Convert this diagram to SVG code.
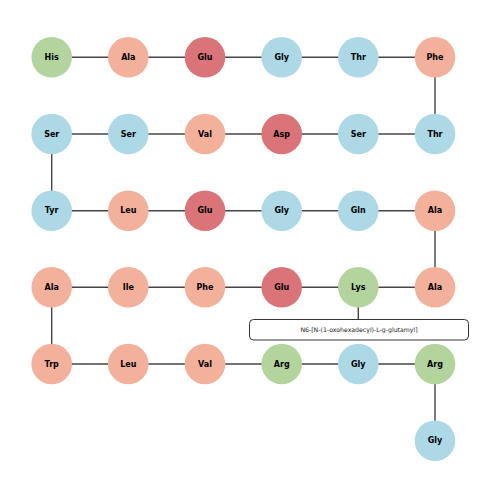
<svg xmlns="http://www.w3.org/2000/svg" width="500" height="500" viewBox="0 0 500 500">
<style>
.c line{stroke:#444;stroke-width:1.4}
circle{stroke:none}
.g{fill:#b3d59d}.s{fill:#f3b09a}.r{fill:#db7479}.b{fill:#add8e6}
text{font-family:"DejaVu Sans",sans-serif;font-size:8px;font-weight:bold;text-anchor:middle;dominant-baseline:central;fill:#000}
.lbl{font-weight:normal;font-size:6.2px;fill:#222}
</style>
<rect width="500" height="500" fill="#fff"/>
<g class="c">
<line x1="51.7" y1="57.3" x2="435" y2="57.3"/>
<line x1="435" y1="57.3" x2="435" y2="134"/>
<line x1="51.7" y1="134" x2="435" y2="134"/>
<line x1="51.7" y1="134" x2="51.7" y2="210.7"/>
<line x1="51.7" y1="210.7" x2="435" y2="210.7"/>
<line x1="435" y1="210.7" x2="435" y2="287.3"/>
<line x1="51.7" y1="287.3" x2="435" y2="287.3"/>
<line x1="51.7" y1="287.3" x2="51.7" y2="364"/>
<line x1="51.7" y1="364" x2="435" y2="364"/>
<line x1="435" y1="364" x2="435" y2="440.7"/>
<line x1="358.3" y1="287.3" x2="358.3" y2="319.5"/>
</g>
<g id="n1"><circle class="g" cx="51.7" cy="57.3" r="20.3"/><text x="51.7" y="57.3">His</text></g>
<g id="n2"><circle class="s" cx="128.3" cy="57.3" r="20.3"/><text x="128.3" y="57.3">Ala</text></g>
<g id="n3"><circle class="r" cx="205" cy="57.3" r="20.3"/><text x="205" y="57.3">Glu</text></g>
<g id="n4"><circle class="b" cx="281.7" cy="57.3" r="20.3"/><text x="281.7" y="57.3">Gly</text></g>
<g id="n5"><circle class="b" cx="358.3" cy="57.3" r="20.3"/><text x="358.3" y="57.3">Thr</text></g>
<g id="n6"><circle class="s" cx="435" cy="57.3" r="20.3"/><text x="435" y="57.3">Phe</text></g>
<g id="n7"><circle class="b" cx="435" cy="134" r="20.3"/><text x="435" y="134">Thr</text></g>
<g id="n8"><circle class="b" cx="358.3" cy="134" r="20.3"/><text x="358.3" y="134">Ser</text></g>
<g id="n9"><circle class="r" cx="281.7" cy="134" r="20.3"/><text x="281.7" y="134">Asp</text></g>
<g id="n10"><circle class="s" cx="205" cy="134" r="20.3"/><text x="205" y="134">Val</text></g>
<g id="n11"><circle class="b" cx="128.3" cy="134" r="20.3"/><text x="128.3" y="134">Ser</text></g>
<g id="n12"><circle class="b" cx="51.7" cy="134" r="20.3"/><text x="51.7" y="134">Ser</text></g>
<g id="n13"><circle class="b" cx="51.7" cy="210.7" r="20.3"/><text x="51.7" y="210.7">Tyr</text></g>
<g id="n14"><circle class="s" cx="128.3" cy="210.7" r="20.3"/><text x="128.3" y="210.7">Leu</text></g>
<g id="n15"><circle class="r" cx="205" cy="210.7" r="20.3"/><text x="205" y="210.7">Glu</text></g>
<g id="n16"><circle class="b" cx="281.7" cy="210.7" r="20.3"/><text x="281.7" y="210.7">Gly</text></g>
<g id="n17"><circle class="b" cx="358.3" cy="210.7" r="20.3"/><text x="358.3" y="210.7">Gln</text></g>
<g id="n18"><circle class="s" cx="435" cy="210.7" r="20.3"/><text x="435" y="210.7">Ala</text></g>
<g id="n19"><circle class="s" cx="435" cy="287.3" r="20.3"/><text x="435" y="287.3">Ala</text></g>
<g id="n20"><circle class="g" cx="358.3" cy="287.3" r="20.3"/><text x="358.3" y="287.3">Lys</text></g>
<g id="n21"><circle class="r" cx="281.7" cy="287.3" r="20.3"/><text x="281.7" y="287.3">Glu</text></g>
<g id="n22"><circle class="s" cx="205" cy="287.3" r="20.3"/><text x="205" y="287.3">Phe</text></g>
<g id="n23"><circle class="s" cx="128.3" cy="287.3" r="20.3"/><text x="128.3" y="287.3">Ile</text></g>
<g id="n24"><circle class="s" cx="51.7" cy="287.3" r="20.3"/><text x="51.7" y="287.3">Ala</text></g>
<g id="n25"><circle class="s" cx="51.7" cy="364" r="20.3"/><text x="51.7" y="364">Trp</text></g>
<g id="n26"><circle class="s" cx="128.3" cy="364" r="20.3"/><text x="128.3" y="364">Leu</text></g>
<g id="n27"><circle class="s" cx="205" cy="364" r="20.3"/><text x="205" y="364">Val</text></g>
<g id="n28"><circle class="g" cx="281.7" cy="364" r="20.3"/><text x="281.7" y="364">Arg</text></g>
<g id="n29"><circle class="b" cx="358.3" cy="364" r="20.3"/><text x="358.3" y="364">Gly</text></g>
<g id="n30"><circle class="g" cx="435" cy="364" r="20.3"/><text x="435" y="364">Arg</text></g>
<g id="n31"><circle class="b" cx="435" cy="440.7" r="20.3"/><text x="435" y="440.7">Gly</text></g>
<g id="mod"><rect x="249.5" y="319.5" width="219" height="20.5" rx="4" fill="#fff" stroke="#333" stroke-width="1"/><text class="lbl" x="359" y="329.8">N6-[N-(1-oxohexadecyl)-L-g-glutamyl]</text></g>
</svg>
